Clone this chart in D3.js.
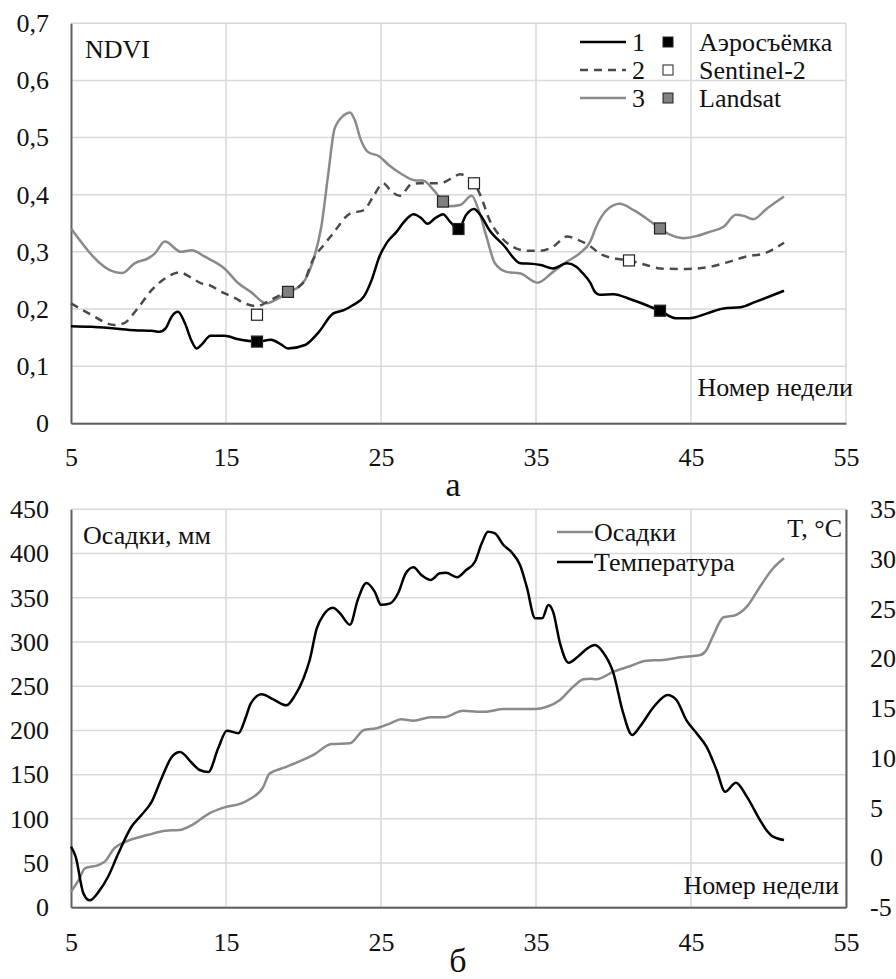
<!DOCTYPE html>
<html>
<head>
<meta charset="utf-8">
<script src="https://d3js.org/d3.v7.min.js"></script>
<style>
  body { margin: 0; background: #fff; overflow: hidden; }
  svg { display: block; }
</style>
</head>
<body>
<script>
// --- data: NDVI by week (panel а) ---
var aeroLine = [[5,0.170],[6.3,0.169],[7.8,0.166],[9.1,0.163],[10.2,0.162],[10.7,0.160],[11.1,0.166],[11.5,0.187],[11.9,0.195],[12.35,0.175],[12.8,0.143],[13.1,0.131],[13.4,0.137],[14.0,0.153],[14.9,0.153],[15.8,0.147],[17.0,0.143],[17.9,0.146],[18.5,0.139],[19.0,0.131],[20.1,0.137],[21.0,0.160],[21.9,0.192],[22.6,0.198],[23.2,0.207],[23.9,0.222],[24.4,0.251],[24.9,0.292],[25.35,0.315],[26.0,0.335],[26.5,0.353],[27.1,0.366],[27.6,0.359],[28.0,0.349],[28.5,0.359],[29.0,0.366],[29.45,0.353],[30.0,0.340],[30.5,0.365],[31.0,0.375],[31.4,0.365],[32.0,0.338],[32.9,0.312],[34.0,0.280],[34.8,0.279],[35.3,0.277],[36.1,0.271],[37.0,0.280],[37.6,0.274],[37.9,0.266],[38.5,0.246],[38.8,0.230],[39.1,0.225],[40.0,0.226],[41.1,0.217],[42.1,0.207],[43.0,0.197],[44.0,0.184],[44.9,0.184],[46.0,0.192],[47.1,0.201],[48.2,0.203],[49.2,0.213],[51,0.232]];
var sentinelLine = [[5,0.210],[6.3,0.190],[7.8,0.172],[8.4,0.175],[9.3,0.201],[10.2,0.233],[11.1,0.254],[12.0,0.264],[12.8,0.254],[13.4,0.245],[13.9,0.242],[14.7,0.230],[15.6,0.219],[16.2,0.210],[17.0,0.205],[17.7,0.213],[18.6,0.226],[19.7,0.239],[20.1,0.251],[20.5,0.280],[21.4,0.315],[21.9,0.332],[23.0,0.367],[23.9,0.373],[24.5,0.397],[25.15,0.420],[25.6,0.408],[26.2,0.398],[27.0,0.419],[27.5,0.420],[28.8,0.420],[29.7,0.431],[30.1,0.436],[30.6,0.430],[31.0,0.420],[31.4,0.400],[32.0,0.356],[32.7,0.327],[33.5,0.309],[34.4,0.302],[35.3,0.302],[36.1,0.309],[37.0,0.327],[37.6,0.322],[38.5,0.310],[39.1,0.297],[40.0,0.289],[41.0,0.285],[42.1,0.277],[43.0,0.271],[44.3,0.270],[45.4,0.271],[46.4,0.275],[47.5,0.283],[48.6,0.292],[49.7,0.297],[51,0.316]];
var landsatLine = [[5,0.341],[7.8,0.265],[8.3,0.263],[9.1,0.280],[10.0,0.289],[10.4,0.297],[11.06,0.318],[12.1,0.300],[12.8,0.303],[13.6,0.292],[14.9,0.271],[15.8,0.245],[16.6,0.230],[17.6,0.210],[18.4,0.219],[19.0,0.230],[19.7,0.239],[20.1,0.251],[20.7,0.292],[21.15,0.344],[21.6,0.437],[22.0,0.515],[22.6,0.539],[23.0,0.544],[23.3,0.531],[23.7,0.496],[24.15,0.475],[24.9,0.467],[25.5,0.452],[26.4,0.435],[27.25,0.425],[27.7,0.425],[28.4,0.408],[29.0,0.388],[29.45,0.380],[30.1,0.382],[30.85,0.398],[31.3,0.373],[31.8,0.327],[32.35,0.280],[33.1,0.265],[34.0,0.262],[35.1,0.246],[36.1,0.265],[37.0,0.283],[37.8,0.297],[38.5,0.318],[38.9,0.345],[39.56,0.373],[40.4,0.384],[41.3,0.373],[42.1,0.359],[43.0,0.341],[43.65,0.330],[44.5,0.324],[45.4,0.328],[46.2,0.335],[47.1,0.344],[47.9,0.365],[48.4,0.363],[49.0,0.357],[49.9,0.376],[51,0.397]];

// survey points (squares)
var aeroPts = [[17,0.143],[30,0.340],[43,0.197]];
var sentinelPts = [[17,0.190],[31,0.420],[41,0.285]];
var landsatPts = [[19,0.230],[29,0.388],[43,0.341]];

var legendNums = ["1","2","3"];
var legendNames = ["Аэросъёмка","Sentinel-2","Landsat"];

// --- data: precipitation (mm) and temperature (°C) by week (panel б) ---
var precip = [[5,17.6],[5.5,31],[5.9,44],[6.8,48],[7.2,52],[7.8,67],[8.5,74],[10.0,82],[11.1,86.6],[12.0,87.4],[12.8,93],[13.9,106],[14.9,113],[16.0,117.6],[16.6,123],[17.4,136],[17.8,151],[18.6,157],[19.7,164.6],[20.7,173],[21.8,184.6],[23.0,185.4],[23.9,200.5],[24.7,202.4],[25.6,208],[26.3,212.6],[27.1,211],[28.2,214.8],[29.0,214.8],[30.3,222.3],[31.2,221.2],[31.8,221.2],[32.9,224.2],[34.0,224.2],[35.0,224.2],[35.7,226.8],[36.55,234.4],[37.4,249.4],[38.06,257.8],[38.5,258.5],[38.9,257.8],[40.0,266.4],[41.1,272.8],[42.1,278.8],[43.2,279.6],[44.3,282.7],[45.6,285.3],[46.0,291],[46.4,306],[47.1,327.9],[47.9,330.5],[48.6,339.9],[49.45,362.5],[50.3,383.3],[51,394.6]];
var temp = [[5,1.1],[5.3,0.1],[5.8,-3.6],[6.2,-4.3],[6.8,-3.4],[7.4,-1.9],[8.05,0.4],[8.9,3.1],[9.56,4.3],[10.2,5.6],[10.85,8.0],[11.5,10.1],[12.03,10.6],[12.8,9.5],[13.3,8.8],[13.86,8.6],[14.5,11.0],[15.05,12.75],[15.8,12.5],[16.3,14.2],[16.6,15.5],[17.3,16.4],[18.05,15.9],[18.9,15.3],[19.45,16.3],[20.0,18.0],[20.4,19.85],[20.85,23.0],[21.3,24.4],[21.9,25.1],[22.35,24.55],[23.0,23.4],[23.5,25.9],[24.06,27.6],[24.6,26.7],[25.0,25.4],[25.6,25.55],[26.1,26.56],[26.6,28.57],[27.1,29.17],[27.6,28.4],[28.2,27.9],[28.8,28.57],[29.2,28.63],[29.9,28.17],[30.5,28.9],[31.06,29.73],[31.5,31.58],[31.9,32.75],[32.35,32.59],[32.9,31.41],[33.45,30.64],[33.97,29.4],[34.4,27.22],[34.95,24.05],[35.4,24.05],[35.8,25.38],[36.1,24.71],[36.55,21.53],[37.1,19.58],[37.7,20.19],[38.3,21.0],[38.8,21.36],[39.3,20.69],[40.0,18.52],[40.6,14.66],[41.2,12.32],[41.7,13.15],[42.6,15.16],[43.5,16.34],[44.06,15.83],[44.7,13.82],[45.36,12.49],[46.0,11.14],[46.65,8.8],[47.2,6.62],[47.9,7.52],[48.6,6.12],[49.45,3.77],[49.8,2.9],[50.3,2.1],[51,1.76]];

var weekTicks = [5,15,25,35,45,55];
var ndviTicks = [0,0.1,0.2,0.3,0.4,0.5,0.6,0.7];
var mmTicks = [0,50,100,150,200,250,300,350,400,450];
var tTicks = [-5,0,5,10,15,20,25,30,35];

var W = 896, H = 979;
var FS = 26;
var FONT = "'Liberation Serif', 'Times New Roman', Tinos, serif";
var GRID = "#d9d9d9", AXIS = "#5f5f5f";
var GRAY = "#8a8a8a", DASH = "#4a4a4a";

var svg = d3.select("body").append("svg")
    .attr("width", W).attr("height", H);
svg.append("rect").attr("width", W).attr("height", H).attr("fill", "#fff");

var x1 = d3.scaleLinear().domain([5, 55]).range([71, 846]);
var yN = d3.scaleLinear().domain([0, 0.7]).range([423.3, 23.3]);
var yP = d3.scaleLinear().domain([0, 450]).range([907.3, 509.3]);
var yT = d3.scaleLinear().domain([-5, 35]).range([907.3, 509.3]);

var comma = function (d) { return d === 0 ? "0" : d3.format(".1f")(d).replace(".", ","); };

function grid(g, ys, yTicks) {
    g.selectAll(null).data(yTicks).enter().append("line")
        .attr("x1", x1(5)).attr("x2", x1(55))
        .attr("y1", function (d) { return ys(d); }).attr("y2", function (d) { return ys(d); })
        .attr("stroke", GRID).attr("stroke-width", 1.5);
    g.selectAll(null).data(weekTicks.slice(1)).enter().append("line")
        .attr("x1", function (d) { return x1(d); }).attr("x2", function (d) { return x1(d); })
        .attr("y1", ys.range()[0]).attr("y2", ys.range()[1])
        .attr("stroke", GRID).attr("stroke-width", 1.5);
}

function styleAxis(g) {
    g.attr("font-family", null);
    g.select(".domain").attr("stroke", AXIS).attr("stroke-width", 2);
    g.selectAll("text").attr("fill", "#111");
}

// ---------- panel а ----------
var topG = svg.append("g");
grid(topG, yN, ndviTicks);

topG.append("g").attr("transform", "translate(0," + yN(0) + ")")
    .call(d3.axisBottom(x1).tickValues(weekTicks).tickSize(0).tickPadding(24).tickFormat(d3.format("d")))
    .call(styleAxis);
topG.append("g").attr("transform", "translate(" + x1(5) + ",0)")
    .call(d3.axisLeft(yN).tickValues(ndviTicks).tickSize(0).tickPadding(22).tickFormat(comma))
    .call(styleAxis);

var lineN = d3.line()
    .x(function (d) { return x1(d[0]); })
    .y(function (d) { return yN(d[1]); })
    .curve(d3.curveMonotoneX);

topG.append("path").datum(landsatLine).attr("d", lineN)
    .attr("fill", "none").attr("stroke", GRAY).attr("stroke-width", 2.5);
topG.append("path").datum(sentinelLine).attr("d", lineN)
    .attr("fill", "none").attr("stroke", DASH).attr("stroke-width", 2.5).attr("stroke-dasharray", "8,6");
topG.append("path").datum(aeroLine).attr("d", lineN)
    .attr("fill", "none").attr("stroke", "#000").attr("stroke-width", 2.5);

function squares(pts, fill) {
    topG.selectAll(null).data(pts).enter().append("rect")
        .attr("x", function (d) { return x1(d[0]) - 5.5; })
        .attr("y", function (d) { return yN(d[1]) - 5.5; })
        .attr("width", 11).attr("height", 11)
        .attr("fill", fill).attr("stroke", "#222").attr("stroke-width", 1.2);
}
squares(sentinelPts, "#fff");
squares(landsatPts, "#808080");
squares(aeroPts, "#000");

topG.append("text").attr("x", 85).attr("y", 58).text("NDVI");
topG.append("text").attr("x", 853).attr("y", 396)
    .attr("text-anchor", "end").text("Номер недели");

// legend
var legStyles = [
    { stroke: "#000", dash: null, fill: "#000" },
    { stroke: DASH, dash: "8,6", fill: "#fff" },
    { stroke: GRAY, dash: null, fill: "#808080" }
];
var leg = topG.selectAll(null).data(legendNames).enter().append("g")
    .attr("transform", function (d, i) { return "translate(0," + (42 + i * 28) + ")"; });
leg.append("line").attr("x1", 580).attr("x2", 626).attr("y1", 0).attr("y2", 0)
    .attr("stroke", function (d, i) { return legStyles[i].stroke; })
    .attr("stroke-width", 2.5)
    .attr("stroke-dasharray", function (d, i) { return legStyles[i].dash; });
leg.append("text").attr("x", 632).attr("y", 9)
    .text(function (d, i) { return legendNums[i]; });
leg.append("rect").attr("x", 663).attr("y", -5).attr("width", 10).attr("height", 10)
    .attr("fill", function (d, i) { return legStyles[i].fill; })
    .attr("stroke", "#222").attr("stroke-width", 1);
leg.append("text").attr("x", 699).attr("y", 9)
    .text(function (d) { return d; });

svg.append("text").attr("class", "big").attr("x", 453).attr("y", 496)
    .attr("text-anchor", "middle").text("а");

// ---------- panel б ----------
var botG = svg.append("g");
grid(botG, yP, mmTicks);

botG.append("g").attr("transform", "translate(0," + yP(0) + ")")
    .call(d3.axisBottom(x1).tickValues(weekTicks).tickSize(0).tickPadding(25).tickFormat(d3.format("d")))
    .call(styleAxis);
botG.append("g").attr("transform", "translate(" + x1(5) + ",0)")
    .call(d3.axisLeft(yP).tickValues(mmTicks).tickSize(0).tickPadding(22).tickFormat(d3.format("d")))
    .call(styleAxis);
botG.append("g").attr("transform", "translate(" + x1(55) + ",0)")
    .call(d3.axisRight(yT).tickValues(tTicks).tickSize(0).tickPadding(24).tickFormat(function (d) { return String(d); }))
    .call(styleAxis);

var lineP = d3.line()
    .x(function (d) { return x1(d[0]); })
    .y(function (d) { return yP(d[1]); })
    .curve(d3.curveMonotoneX);
var lineT = d3.line()
    .x(function (d) { return x1(d[0]); })
    .y(function (d) { return yT(d[1]); })
    .curve(d3.curveMonotoneX);

botG.append("path").datum(precip).attr("d", lineP)
    .attr("fill", "none").attr("stroke", GRAY).attr("stroke-width", 2.5);
botG.append("path").datum(temp).attr("d", lineT)
    .attr("fill", "none").attr("stroke", "#000").attr("stroke-width", 2.5);

botG.append("text").attr("x", 83).attr("y", 544).text("Осадки, мм");
botG.append("text").attr("x", 842).attr("y", 537)
    .attr("text-anchor", "end").text("T, °C");
botG.append("text").attr("x", 839).attr("y", 894)
    .attr("text-anchor", "end").text("Номер недели");

var leg2 = [["Осадки", GRAY], ["Температура", "#000"]];
var lg2 = botG.selectAll(null).data(leg2).enter().append("g")
    .attr("transform", function (d, i) { return "translate(0," + (532 + i * 30) + ")"; });
lg2.append("line").attr("x1", 557).attr("x2", 593).attr("y1", 0).attr("y2", 0)
    .attr("stroke", function (d) { return d[1]; }).attr("stroke-width", 2.5);
lg2.append("text").attr("x", 594).attr("y", 9)
    .text(function (d) { return d[0]; });

svg.append("text").attr("class", "big").attr("x", 458).attr("y", 972)
    .attr("text-anchor", "middle").text("б");

// one serif font for every text
svg.selectAll("text")
    .style("font-family", FONT)
    .style("font-size", FS + "px")
    .style("fill", "#111");
svg.selectAll("text.big").style("font-size", "34px");
</script>
</body>
</html>
